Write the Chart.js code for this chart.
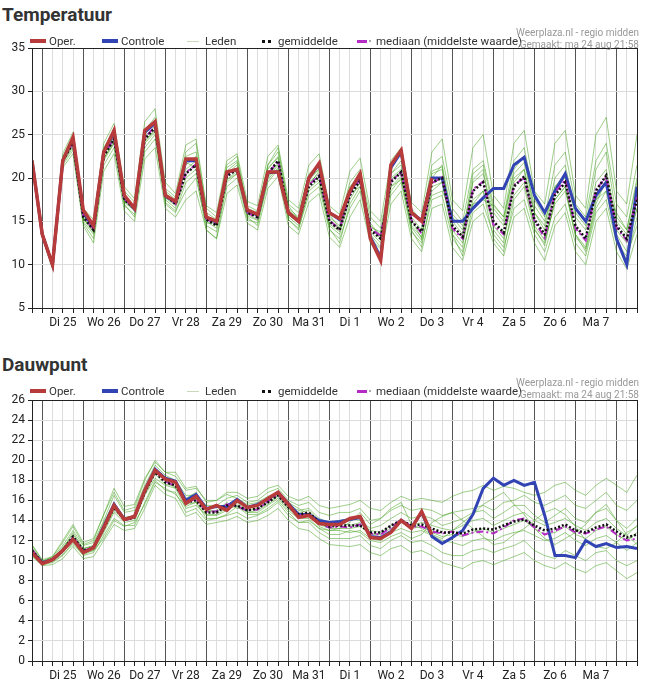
<!DOCTYPE html>
<html>
<head>
<meta charset="utf-8">
<script src="https://cdn.jsdelivr.net/npm/chart.js@4"></script>
<style>
    body { margin: 0; background: #fff; font-family: Roboto, "Noto Sans", sans-serif; }
    .panel { position: relative; width: 647px; }
    .panel h2 { margin: 0; font-size: 19px; font-weight: bold; color: #333; position: absolute; left: 2px; }
    .legend { position: absolute; left: 0; width: 520px; height: 14px; font-size: 11.5px; color: #333; white-space: nowrap; }
    .legend span, .legend i { position: absolute; top: 0; line-height: 14px; }
    .legend i { height: 0; top: 7px; }
    .credit { position: absolute; right: 8px; font-size: 10px; color: #999; text-align: right; line-height: 12px; }
    canvas { position: absolute; left: 0; }
</style>
</head>
<body>

<div class="panel" id="p1" style="height:350px">
    <h2 style="top:3px">Temperatuur</h2>
    <canvas id="tempChart"></canvas>
</div>
<div class="panel" id="p2" style="height:336px">
    <h2 style="top:3px">Dauwpunt</h2>
    <canvas id="dewChart"></canvas>
</div>

<script>
// 6-hourly steps, index 0 = ma 24 aug 18:00
const DAY_LABELS = ["Di 25", "Wo 26", "Do 27", "Vr 28", "Za 29", "Zo 30", "Ma 31",
                    "Di 1", "Wo 2", "Do 3", "Vr 4", "Za 5", "Zo 6", "Ma 7"];

// Temperatuur
const tempOper = [22,13.5,10,22,24.7, 16.3,14.5,23,25.5, 18,16.5,25.5,26.5, 18,17.3,22.2,22.2,
    15.5,15,20.7,21, 16.3,15.8,20.7,20.7, 16,15,20,21.7, 16,15.3,18.5,20.5, 13,10.5,21.5,23.2, 16,15,20];
const tempControl = [22,13.5,10,22,24.5, 16,14.3,23,25.3, 17.8,16.4,25.3,26.3, 17.9,17.2,22,22,
    15.4,14.9,20.6,21, 16.2,15.7,20.6,20.7, 16,15,20,21.6, 16,15.2,18.4,20.3, 13.2,10.8,21.2,23, 16,15.1,
    20,20, 15,15,16.5,17.7, 18.8,18.8,21.5,22.4, 18,16,18.5,20.5, 16.5,15,18,19.5, 13,10,19];
const tempMean = [22,13.5,10,22,24, 15.5,14,22.5,24.5, 17.5,16.5,24.5,25.8, 18,17,20.5,21.5,
    15.2,14.5,20.2,21, 16,15.5,20.5,22, 16,15,19,20.2, 15,14,18,19.7, 14,13,19.5,20.7, 15,13.8,19.5,20,
    14.5,13.2,18.5,19.5, 15,13.7,19,20.2, 15.2,13.5,18,19.5, 14.5,13,18.5,20.3, 14.5,13,17.5];
const tempMedian = [22,13.5,10,22,24.1, 15.6,14.1,22.6,24.6, 17.6,16.4,24.6,26, 18,17,20.6,21.6,
    15.3,14.6,20.3,21, 16,15.4,20.4,22, 16,15,19.2,20.3, 15.1,14.1,18.2,19.8, 14.2,13.3,19.7,20.6, 15.2,13.6,19.4,20.1,
    14.2,13,18.7,19.6, 14.6,13.5,19.2,20, 15,13.1,18.3,19.8, 14.2,12.8,18.7,20.1, 14.3,12.8,17.8];
const tempMembers = [
    [22,13.8,10.3,22.5,24.8, 16,14.8,23.5,25.5, 18.5,17.2,25.5,27, 18.8,17.8,22.5,23, 16,15.2,21.2,22,
     16.8,16.2,21.5,23, 17,16,20.5,21.5, 16.2,15,19.5,21, 15.5,14.2,20.5,22, 16.5,15,21.5,22.5,
     16.5,15,21,22, 17,15.5,22,23.5, 17.5,15.5,21.5,23, 17,15.5,22,24, 17,15.5,21.5],
    [22,13.2,9.7,21.5,23.2, 14.8,13,21.5,23.5, 16.8,15.8,23,24.5, 17.2,16.2,18.5,20, 14.5,13.8,19,20,
     15.2,14.8,19.5,21, 15.2,14.2,18,19, 14,13,16.5,18.5, 13,11.8,18,19.5, 13.8,12.5,17.5,18,
     13,11.5,16,17, 13.5,12,16.5,17.5, 13.5,11.5,15.5,17, 12.5,11,16,17.5, 12.5,11,14.5],
    [22,13.5,10,22.2,24.2, 15.2,14.2,22.8,24.8, 17.8,16.8,24.8,26, 18.3,17,21,22, 15,14.2,20.5,21.5,
     16.2,15.7,21,22.5, 16.5,15.5,19.5,20.5, 15.5,14.5,18.5,20, 14.5,13.5,20,21, 15.5,14,20,21.5,
     15.5,14,19.5,20.5, 16,14.5,20,21, 16,14,19,20.5, 15.5,14,19.5,21, 15,13.5,18.5],
    [22,13.6,10.1,21.8,23.8, 15.5,13.8,22,24, 17.2,16.2,24.2,25.5, 17.5,16.5,20,21, 14.8,14.8,19.8,20.5,
     15.8,15.2,20,21.5, 15.5,14.5,18.5,19.5, 14.5,13.5,17.5,19.5, 14.2,13,19,20.2, 14.5,13.2,19,19.5,
     14,12.5,17.5,18.5, 14.5,13,18,19.5, 14.5,12.8,17,18.5, 13.5,12,17.5,19.5, 14,12.5,16.5],
    [22,13.4,9.9,22,24.5, 15.8,14.5,23,25, 18,16.5,25,26.5, 18.5,17.5,23,24, 16.5,15.5,21.5,22.5,
     16.5,16,21.5,23.5, 16.8,15.2,20,21, 15.8,14.2,19,20.5, 14.8,13.2,20.5,21.5, 15.2,13,20.5,21,
     15,13.5,20.5,21.5, 16.5,15,21,22.5, 16,14.5,20,21.5, 16,14.5,21,23, 15.5,14,20],
    [22,13.5,10,21.7,23.5, 15,13.5,22.3,24, 17,15.5,23.5,25, 17,16,19.5,20.5, 14,13,19.5,20.5,
     15.5,14.5,19.8,21.2, 15.2,14,18.8,19.8, 14.2,12.5,17,19, 13.5,12,18.5,20, 14,12,18.5,19.5,
     13.5,11,17,18.5, 13,11.5,17.5,19, 14,12.5,17.5,19, 13.5,11.5,16.5,18.5, 13,10.5,15.5],
    [22,13.6,10.2,22.8,25.3, 16.5,15.2,24,26.3, 19,17.6,26.5,28, 19.5,18.2,23.8,24.5, 16.8,16,22,22.8,
     17.3,16.8,22.5,23.8, 17.5,16.5,21.5,22.8, 16.8,15.8,20.8,22.3, 16.2,15,22,23.5, 17.2,16,23,24.5,
     17.5,16.2,23.5,25, 18,16.5,24,25.5, 18.5,17,24,25.5, 18,16.5,25,27, 18.5,17,25],
    [22,13.1,9.5,21.2,22.8, 14.5,12.5,20.8,22.8, 16.2,15,22.2,23.5, 16.5,15.5,17.5,18.5, 14,13,18.2,19.2,
     14.8,14,18.8,20.2, 14.5,13.5,17.2,18.2, 13.2,12,15.5,17.5, 12.5,11,17,18.5, 13,11.5,16.5,17,
     12,10.5,15,16, 12.5,11,15.5,16.5, 12.5,10.5,14.5,16, 11.5,10,15,16.5, 11.5,9.5,13.5],
    [22,13.5,10,22,24.2, 15.7,14.2,22.2,24.3, 17.3,16.3,24,25.3, 17.7,16.8,21.5,22.5, 15.5,14.5,20.8,21.8,
     16.4,15.8,20.2,21.7, 15.8,14.8,19.8,21, 15.3,14,18.2,19, 14.3,13.8,19,19.8, 16,15.2,18,18.5,
     15.8,14.5,17,17.5, 16.8,15.5,20.5,21.8, 16.8,15,19,20, 16.5,15.2,17.5,18.5, 16,14,19.5],
    [22,13.4,9.9,21.9,23.9, 15.3,13.7,22.6,24.6, 17.7,16.6,24.3,25.6, 18.1,17.1,21.8,21.2, 15.4,14.8,19.8,20.8,
     15.6,15.1,21.2,22.3, 16.3,15.3,19.2,20.8, 14.7,13.8,18.8,20.3, 13.8,12.5,19.8,20.8, 14.3,12.8,20.8,21.3,
     13.5,12,19.8,21, 14,12.5,19.5,21, 14.2,12.2,17.5,19, 13.2,11.8,17,19.8, 13.5,11.5,16.5]
];

// Dauwpunt
const dewOper = [10.8,9.7,10.1,11,12.1, 10.8,11.3,13.3,15.5, 14.1,14.4,17,19, 18.1,17.8,15.7,16.4,
    15.1,15.5,15,16, 15.3,15.5,16.2,16.8, 15.6,14.3,14.5,13.7, 13.6,13.6,14.2,14.4, 12.3,12.2,12.8,14, 13.2,14.9,12.6];
const dewControl = [10.9,9.8,10.1,11,12.2, 10.9,11.3,13.4,15.6, 14.1,14.4,17,19.1, 18.2,17.9,16,16.6,
    15.2,15.4,15.4,16.1, 15.3,15.6,16.1,16.8, 15.7,14.6,14.6,14, 13.8,13.9,14.1,14.3, 12.4,12.3,12.9,14, 13.3,14.8,
    12.4,11.7, 12.3,13,14.6,17.2, 18.2,17.5,18,17.5, 17.8,14.5,10.5,10.5, 10.3,12,11.4,11.7, 11.3,11.4,11.2];
const dewMean = [11,9.8,10.1,11,12.4, 11,11.3,13.2,15.3, 14.1,14.3,16.8,18.8, 17.8,17.5,15.8,16,
    14.8,14.8,15.5,15.5, 15,15.2,15.8,16.5, 15.3,14.6,14.8,13.8, 13.4,13.5,13.5,13.5, 12.8,12.8,13.5,14, 13.5,13.6,13.2,12.8,
    12.8,12.7,13.1,13.2, 13.1,13.5,13.9,14.1, 13.5,13,13.2,13.6, 13,12.8,13.3,13.6, 12.9,12.3,12.6];
const dewMedian = [11.1,9.8,10.1,11,12.3, 11,11.3,13.3,15.4, 14,14.3,16.9,18.9, 17.9,17.4,15.9,16.1,
    14.9,14.9,15.6,15.4, 15,15.1,15.9,16.6, 15.4,14.5,14.6,13.7, 13.3,13.4,13.3,13.6, 12.7,12.6,13.3,14.1, 13.4,13.4,12.9,12.7,
    12.9,12.5,12.8,12.9, 12.7,13.3,14,14.2, 13.3,12.6,13,13.4, 12.8,12.7,13.1,13.4, 12.6,12,12.2];
const dewMembers = [
    [11.5,10,10.3,11.5,13, 11.5,11.8,14,16.5, 14.8,15,17.5,19.5, 18.5,18,16.5,16.5, 15.5,15.5,16.2,16.5,
     15.8,16,16.8,17.2, 16,15.5,15.8,14.8, 14.5,14.8,14.8,15.2, 14,14.2,15,15.5, 15,15.2,15,14.5,
     14.8,15,15.2,15.5, 15,15.8,16,16.5, 15.8,15.5,16,16.5, 15.5,15.2,16,16.8, 15.5,15,16],
    [10.5,9.6,9.8,10.5,11.8, 10.5,10.8,12.5,14.2, 13.5,13.5,15.8,18, 17,16.8,14.8,15.2, 14,14.2,14.5,14.8,
     14.2,14.5,15,15.8, 14.5,13.8,13.8,12.8, 12.2,12.2,12.2,12.5, 11.5,11.2,12,12.5, 11.8,12,11.5,10.8,
     10.5,10.5,11,11.2, 10.8,11.2,11.5,12, 11,10.5,10.2,11, 10.5,10,10.8,11, 10,9.5,10],
    [11.2,9.9,10.2,11.2,12.8, 11.2,11.5,13.8,15.8, 14.3,14.5,17.2,19.2, 18,17.2,16.2,16.8, 15,15,15.8,15.2,
     15.2,15.5,16,16.8, 15.5,15,15.2,14.2, 13.8,14,14.2,14, 13.2,13.5,14.2,14.8, 14.2,14.5,14.2,13.5,
     13.8,14.2,14.8,15, 14.2,14.8,15.5,15.5, 14.5,13.8,14.5,15.2, 14.2,13.8,14.8,15.2, 14,13.2,14.2],
    [10.8,9.7,10,10.8,12, 10.8,11,12.8,14.8, 13.8,14,16.5,18.2, 17.5,17.2,15.2,15.5, 14.5,14.5,15,15.8,
     14.8,14.8,15.5,16.2, 15,14.2,14.2,13.2, 13,13,12.8,13, 12.2,12,12.8,13.2, 12.8,13,12.5,12,
     11.8,11.5,12,12.2, 12,12.5,12.8,13, 12.5,12,12.2,12.8, 12,11.5,12.2,12.5, 11.8,11,11.8],
    [11,9.8,10.2,11.3,12.6, 11.2,11.5,13.5,15.5, 14.2,14.5,17,19, 18,17.8,16,16.2, 15,14.8,15.5,15.5,
     15,15.2,15.8,16.5, 15.2,14.8,15,14, 13.5,13.8,13.5,13.8, 13,12.8,13.5,14, 13.5,13.8,13.5,13.2,
     13,13.5,14,14.2, 13.5,14,14.5,14.8, 14,13.5,13.8,14.2, 13.5,13,13.8,14.2, 13.2,12.5,13.5],
    [11,9.7,10,11,12.3, 10.9,11.2,13,15, 14,14.2,16.6,18.6, 17.6,17.4,15.6,15.8, 14.6,14.6,15.2,15.4,
     14.8,15,15.6,16.4, 15.2,14.4,14.6,13.6, 13.2,13.2,13.2,13.4, 12.6,12.6,13.2,13.8, 13.2,13.4,12.8,12.4,
     12.6,12.4,12.8,13.2, 12.8,13.2,13.6,14, 13.2,12.6,12.8,13.4, 12.6,12.2,13,13.4, 12.6,12,12.8],
    [11.3,9.9,10.4,11.8,13.4, 11.6,12,14.6,16.8, 15,15.3,18,20, 18.8,18.4,17,17.2, 16,16,16.8,16.8,
     16.2,16.4,17.2,17.5, 16.4,16,16.4,15.5, 15.2,15.4,15.6,16, 15.2,15,15.8,16.4, 16,16.2,16,15.8,
     16.4,16.8,17,17.5, 17,17.4,17.2,16.8, 16.5,16.8,17.5,17.8, 17,16.5,17.5,18.2, 17.5,16.8,18.5],
    [10.4,9.5,9.6,10.2,11.4, 10.2,10.4,12,13.6, 13,13.2,15.2,17.5, 16.6,16.2,14.4,14.8, 13.6,13.8,14,14.4,
     13.8,14,14.5,15.2, 14,13.2,13,12.2, 11.6,11.5,11.4,11.6, 10.8,10.5,11.2,11.5, 10.8,11,10.5,9.8,
     9.5,9.2,9.8,10, 9.6,10,10.4,10.8, 10,9.5,9.2,9.8, 9.2,8.8,9.5,9.8, 9,8.2,8.8],
    [11.6,10.1,10.4,12,13.6, 11.8,12.2,14.6,17.2, 15.4,15.6,18.2,19.8, 18.8,18.8,17.2,17.4, 15.8,16,16.6,16.2,
     15.6,15.8,16.4,16.8, 15.8,15.2,14.6,13.4, 13,13.2,13.8,14.8, 13.6,14.2,15.2,15.8, 13.6,13.2,12.6,12.2,
     13,13.8,14.6,15.6, 16.2,16.8,15.6,14.6, 13.2,12.2,11.6,12.2, 12.8,13.6,14.8,15.6, 14,12.6,11.6],
    [10.6,9.6,9.9,10.6,11.6, 10.6,11,12.2,14, 13.4,13.8,15.6,17.8, 17.2,16.6,15.4,15.8, 14.2,14.2,14.6,15.4,
     14.6,14.6,15.2,16, 14.8,13.8,14,13.2, 12.6,12.6,13,12.8, 12,11.8,12.4,12.8, 12.2,12.6,13.8,14.4,
     14.8,14,13.2,12.4, 11.6,11.8,12.6,13.2, 14,14.8,15.2,14.6, 13.4,12,11.4,11.2, 11.8,12.8,13.4]
];

const COLORS = { oper: "#b83b3b", control: "#3243b3", member: "rgba(60,160,20,0.5)", mean: "#111", median: "#b52cc4" };

function pts(values) {
    return values.map((y, i) => ({ x: i, y: y }));
}

function buildLegend(panel, top) {
    const legend = document.createElement("div");
    legend.className = "legend";
    legend.style.top = top + "px";
    legend.innerHTML =
        '<i style="left:30px;width:16px;border-top:4px solid ' + COLORS.oper + ';top:5px"></i><span style="left:49px">Oper.</span>' +
        '<i style="left:102px;width:16px;border-top:4px solid ' + COLORS.control + ';top:5px"></i><span style="left:121px">Controle</span>' +
        '<i style="left:187px;width:12px;border-top:1px solid #c8d8b8"></i><span style="left:205px">Leden</span>' +
        '<i style="left:262px;width:9px;border-top:3px dotted #111;top:6px"></i><span style="left:278px">gemiddelde</span>' +
        '<i style="left:357px;width:10px;border-top:3px solid ' + COLORS.median + ';top:6px"></i>' +
        '<i style="left:369px;width:2px;border-top:2px solid #aaa;top:6px"></i><span style="left:376px">mediaan (middelste waarde)</span>';
    panel.appendChild(legend);

    const credit = document.createElement("div");
    credit.className = "credit";
    credit.style.top = (top - 7) + "px";
    credit.innerHTML = "Weerplaza.nl - regio midden<br>Gemaakt: ma 24 aug 21:58";
    panel.appendChild(credit);
}

// black frame around the plot area
const framePlugin = {
    id: "frame",
    afterDraw(chart) {
        const { ctx, chartArea: a } = chart;
        ctx.save();
        ctx.strokeStyle = "#222";
        ctx.lineWidth = 1;
        ctx.strokeRect(a.left + 0.5, a.top + 0.5, a.right - a.left, a.bottom - a.top);
        ctx.restore();
    }
};

function makeChart(canvasId, canvasTop, height, yMin, yMax, yStep, series) {
    const canvas = document.getElementById(canvasId);
    canvas.width = 647;
    canvas.height = height;
    canvas.style.top = canvasTop + "px";
    canvas.style.width = "647px";
    canvas.style.height = height + "px";

    const line = (data, color, width, dash) => ({
        data: pts(data), borderColor: color, borderWidth: width, borderDash: dash || [],
        pointRadius: 0, tension: 0, fill: false
    });

    // first dataset is drawn on top
    const datasets = [
        line(series.oper, COLORS.oper, 3.5),
        line(series.mean, COLORS.mean, 2.5, [2, 2]),
        line(series.median, COLORS.median, 2, [7, 3, 2, 3]),
        line(series.control, COLORS.control, 3),
    ];
    series.members.forEach(m => datasets.push(line(m, COLORS.member, 1)));

    return new Chart(canvas.getContext("2d"), {
        type: "line",
        data: { datasets: datasets },
        plugins: [framePlugin],
        options: {
            responsive: false,
            animation: false,
            layout: { padding: { top: 18, right: 10 } },
            plugins: { legend: { display: false }, tooltip: { enabled: false } },
            scales: {
                x: {
                    type: "linear", min: 0, max: 59,
                    afterFit: s => { s.height = 28; },
                    ticks: {
                        stepSize: 1, autoSkip: false, maxRotation: 0, color: "#222",
                        font: { family: "Roboto", size: 12 },
                        callback: v => ((v - 3) % 4 === 0 && v <= 55) ? DAY_LABELS[(v - 3) / 4] : ""
                    },
                    grid: {
                        color: c => (c.tick && (c.tick.value - 1) % 4 === 0) ? "#555" : "#dcdcdc",
                        tickColor: "#222", tickLength: 5, lineWidth: 1
                    },
                    border: { display: false }
                },
                y: {
                    min: yMin, max: yMax,
                    afterFit: s => { s.width = 32; },
                    ticks: { stepSize: yStep, color: "#222", font: { family: "Roboto", size: 12 }, padding: 3 },
                    grid: { color: "#dcdcdc", tickColor: "#222", tickLength: 4 },
                    border: { display: false }
                }
            }
        }
    });
}

buildLegend(document.getElementById("p1"), 34);
buildLegend(document.getElementById("p2"), 34);

makeChart("tempChart", 30, 306, 5, 35, 5, {
    oper: tempOper, control: tempControl, mean: tempMean, median: tempMedian, members: tempMembers
});
makeChart("dewChart", 32, 307, 0, 26, 2, {
    oper: dewOper, control: dewControl, mean: dewMean, median: dewMedian, members: dewMembers
});
</script>
</body>
</html>
